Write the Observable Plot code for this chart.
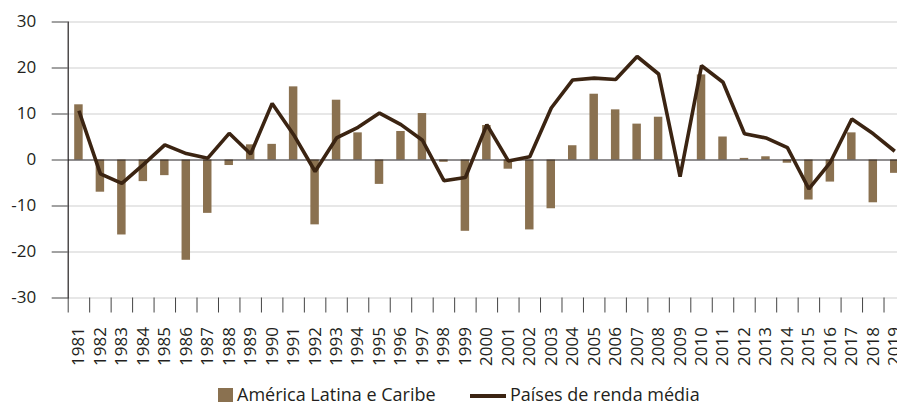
<!DOCTYPE html>
<html>
<head>
<meta charset="utf-8">
<script src="https://cdn.jsdelivr.net/npm/d3@7"></script>
<script src="https://cdn.jsdelivr.net/npm/@observablehq/plot@0.6"></script>
<style>
  html, body { margin: 0; padding: 0; overflow: hidden; background: #fff; width: 897px; height: 402px; }
  #wrap { position: relative; width: 897px; height: 402px; overflow: hidden; }
  #chart { position: absolute; left: 0; top: 0; width: 905px; }
  #chart svg { max-width: none !important; }
  .leg { position: absolute; font-family: "Open Sans", sans-serif; font-size: 18px; line-height: 14px; color: #231f20; white-space: nowrap; }
  .sw { position: absolute; }
</style>
</head>
<body>
<div id="wrap">
  <div id="chart"></div>
  <div class="sw" style="left:218px; top:388px; width:15px; height:14px; background:#8a7150;"></div>
  <div class="leg" style="left:237px; top:387px;">América Latina e Caribe</div>
  <div class="sw" style="left:470px; top:394px; width:36px; height:3.5px; background:#3b2412;"></div>
  <div class="leg" style="left:510px; top:387px;">Países de renda média</div>
</div>
<script>
const years = d3.range(1981, 2020);
const latam = [12.0, -7.0, -16.3, -4.7, -3.4, -21.8, -11.6, -1.2, 3.3, 3.4,
  15.9, -14.1, 13.0, 5.9, -5.3, 6.2, 10.1, -0.5, -15.5, 7.5,
  -2.0, -15.2, -10.6, 3.1, 14.3, 10.9, 7.8, 9.3, 0, 18.5,
  5.0, 0.35, 0.7, -0.7, -8.7, -4.8, 5.9, -9.3, -2.9];
const middle = [10.7, -3.0, -5.1, -1.0, 3.3, 1.4, 0.4, 5.8, 1.3, 12.3,
  5.5, -2.5, 4.8, 7.1, 10.2, 7.7, 4.3, -4.5, -3.8, 7.7,
  -0.2, 0.7, 11.3, 17.4, 17.8, 17.5, 22.5, 18.7, -3.6, 20.5,
  16.9, 5.7, 4.8, 2.7, -6.3, -0.5, 8.9, 5.7, 1.9];
const yTicks = [-30, -20, -10, 0, 10, 20, 30];
const gridTicks = [-30, -20, -10, 10, 20, 30];

const barData = years.map((y, i) => ({year: String(y), value: latam[i]}));
const lineData = years.map((y, i) => ({year: String(y), value: middle[i]}));

const marginLeft = 67.7, marginRight = 0, width = 905;
const step = (width - marginLeft - marginRight) / years.length;

const chart = Plot.plot({
  width,
  height: 380,
  marginLeft,
  marginRight,
  marginTop: 21.5,
  marginBottom: 82.5,
  style: {fontFamily: "'Open Sans', sans-serif", fontSize: "17px", color: "#231f20", background: "transparent", overflow: "visible", maxWidth: "none"},
  x: {type: "band", domain: years.map(String), padding: 0, round: false},
  y: {domain: [-30, 30]},
  marks: [
    Plot.gridY(gridTicks, {stroke: "#d0d0d0", strokeOpacity: 1, strokeWidth: 1.2}),
    Plot.barY(barData, {x: "year", y: "value", fill: "#8a7150", insetLeft: 6.5, insetRight: 6.5}),
    Plot.ruleY([0], {stroke: "#231f20", strokeWidth: 1.2}),
    Plot.frame({anchor: "left", stroke: "#231f20", strokeWidth: 1.2}),
    Plot.axisY({ticks: yTicks, tickSize: 16, tickPadding: 16, tickFormat: d => String(d), stroke: "#444", label: null, fill: "#231f20"}),
    Plot.axisX({ticks: years.map(String), tickSize: 15, tickFormat: () => "", dx: -step / 2, stroke: "#444", label: null}),
    Plot.axisX({ticks: years.map(String), tickSize: 0, tickPadding: 29, tickRotate: -90, label: null, fill: "#231f20"}),
    Plot.lineY(lineData, {x: "year", y: "value", stroke: "#3b2412", strokeWidth: 3.6, strokeLinejoin: "miter", strokeLinecap: "butt"})
  ]
});
document.getElementById("chart").appendChild(chart);
</script>
</body>
</html>
